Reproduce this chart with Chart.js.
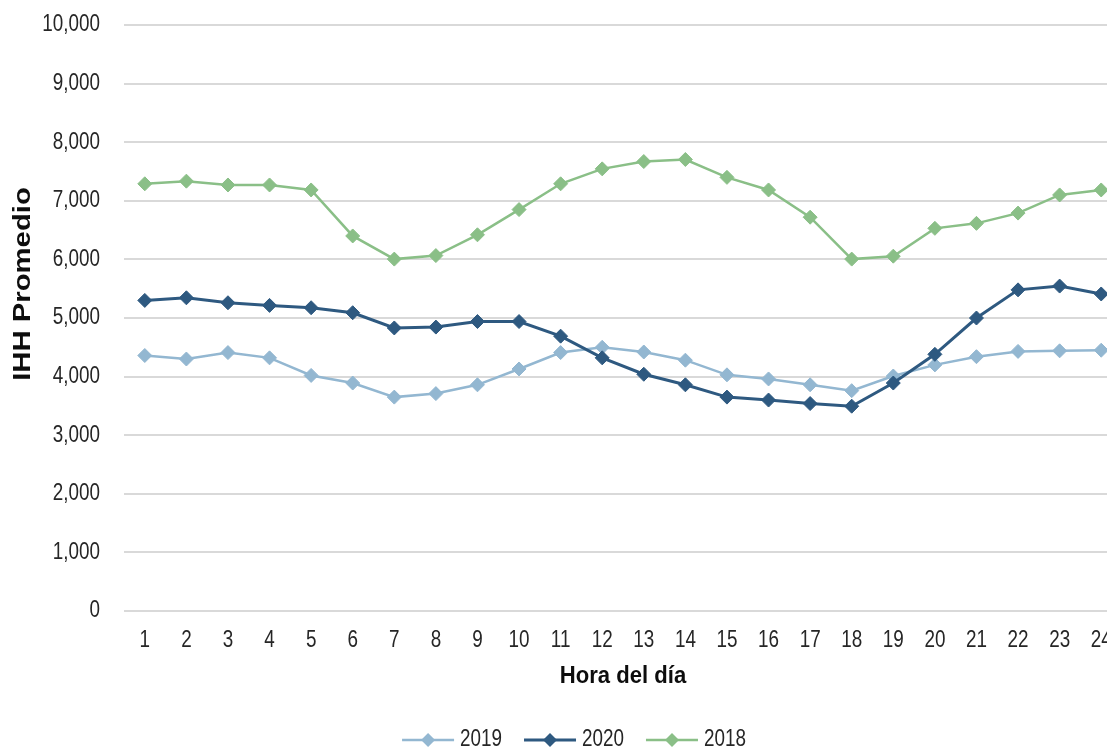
<!DOCTYPE html>
<html><head><meta charset="utf-8">
<script src="https://cdn.jsdelivr.net/npm/chart.js@4.4.1/dist/chart.umd.min.js"></script>
<style>
html,body{margin:0;padding:0;overflow:hidden;background:#fff;width:1107px;height:750px}
#wrap{position:absolute;left:0;top:0;width:1148px;height:750px}
</style></head><body>
<div id="wrap"><canvas id="c"></canvas></div>
<script>
const hours = ['1','2','3','4','5','6','7','8','9','10','11','12','13','14','15','16','17','18','19','20','21','22','23','24'];
const values2019 = [4360,4300,4410,4320,4020,3890,3650,3710,3860,4130,4410,4500,4420,4280,4030,3960,3860,3760,4010,4200,4340,4430,4440,4450];
const values2020 = [5300,5345,5260,5215,5175,5090,4830,4845,4940,4940,4690,4320,4040,3860,3650,3600,3540,3495,3890,4380,5000,5480,5545,5410];
const values2018 = [7290,7335,7270,7270,7185,6400,6005,6065,6420,6850,7290,7545,7670,7705,7400,7185,6720,6005,6055,6530,6615,6790,7100,7185];
const seriesLabels = ['2019','2020','2018'];
const yMin = 0, yMax = 10000, yStep = 1000;
const xTitle = 'Hora del día';
const yTitle = 'IHH Promedio';

const FONT = "'Liberation Sans',Arial,sans-serif";
const NARROW = 0.82;  // horizontal condensation of regular text to mimic a narrow face
const BOLD_K = 0.92;  // slight condensation of bold titles
const colors = ['#93B7D1','#2E5980','#8ABF87'];

const canvas = document.getElementById('c');
const ctx0 = canvas.getContext('2d');
const origFill = ctx0.fillText.bind(ctx0);
ctx0.fillText = function(text, x, y, maxW){
  const k = /bold/.test(this.font) ? BOLD_K : NARROW;
  this.save();
  this.translate(x, y);
  this.scale(k, 1);
  if (maxW !== undefined) origFill(text, 0, 0, maxW / k); else origFill(text, 0, 0);
  this.restore();
};

function mk(label, data, color, order, width){
  return {label, data, borderColor:color, backgroundColor:color, borderWidth:width,
    pointStyle:'rectRot', pointRadius:7, pointHoverRadius:7, pointBorderWidth:1,
    pointBackgroundColor:color, pointBorderColor:color, tension:0, order};
}

const lineLegend = {
  id:'lineLegend',
  afterDraw(chart){
    const ctx = chart.ctx;
    const ds = chart.data.datasets;
    ctx.save();
    ctx.font = '23px ' + FONT;
    const lineW = 52, gap = 6, itemGap = 22, r = 7;
    const widths = ds.map(d => lineW + gap + ctx.measureText(d.label).width * NARROW);
    const total = widths.reduce((a,b)=>a+b,0) + itemGap*(ds.length-1);
    let x = chart.width/2 - total/2;
    const y = 740;
    ds.forEach((d,i)=>{
      ctx.strokeStyle = d.borderColor; ctx.lineWidth = d.borderWidth;
      ctx.beginPath(); ctx.moveTo(x,y); ctx.lineTo(x+lineW,y); ctx.stroke();
      const cx = x + lineW/2;
      ctx.fillStyle = d.borderColor;
      ctx.beginPath(); ctx.moveTo(cx, y-r); ctx.lineTo(cx+r, y); ctx.lineTo(cx, y+r); ctx.lineTo(cx-r, y); ctx.closePath(); ctx.fill();
      ctx.fillStyle = '#262626'; ctx.textBaseline = 'middle'; ctx.textAlign = 'left';
      ctx.fillText(d.label, x + lineW + gap, y);
      x += widths[i] + itemGap;
    });
    // y axis title
    ctx.translate(23, 284);
    ctx.rotate(-Math.PI/2);
    ctx.scale(1.22 / BOLD_K, 1);
    ctx.font = 'bold 24px ' + FONT;
    ctx.fillStyle = '#0d0d0d';
    ctx.textAlign = 'center'; ctx.textBaseline = 'middle';
    ctx.fillText(yTitle, 0, 0);
    ctx.restore();
  }
};

new Chart(canvas, {
  type:'line',
  data:{
    labels: hours,
    datasets:[
      mk(seriesLabels[0], values2019, colors[0], 3, 2.5),
      mk(seriesLabels[1], values2020, colors[1], 2, 3),
      mk(seriesLabels[2], values2018, colors[2], 1, 2.5)
    ]
  },
  options:{
    responsive:true, maintainAspectRatio:false, animation:false,
    layout:{padding:{left:10, right:26, top:25, bottom:59}},
    plugins:{legend:{display:false}, tooltip:{enabled:false}},
    scales:{
      x:{
        offset:true,
        grid:{display:false, drawTicks:false},
        border:{display:false},
        ticks:{color:'#262626', font:{family:FONT, size:23}, padding:16, maxRotation:0, autoSkip:false},
        title:{display:true, text:xTitle, color:'#0d0d0d', font:{family:FONT, size:24, weight:'bold'}, padding:0},
        afterFit(s){ s.height = 80; s.paddingLeft = 0; s.paddingRight = 0; }
      },
      y:{
        min:yMin, max:yMax,
        grid:{color:'#D9D9D9', lineWidth:2, drawTicks:false},
        border:{display:false},
        ticks:{stepSize:yStep, color:'#262626', font:{family:FONT, size:23}, padding:24,
          callback:v => v.toLocaleString('en-US')},
        title:{display:false},
        afterFit(s){ s.width = 114; s.paddingTop = 0; s.paddingBottom = 0; }
      }
    }
  },
  plugins:[lineLegend]
});
</script>
</body></html>
